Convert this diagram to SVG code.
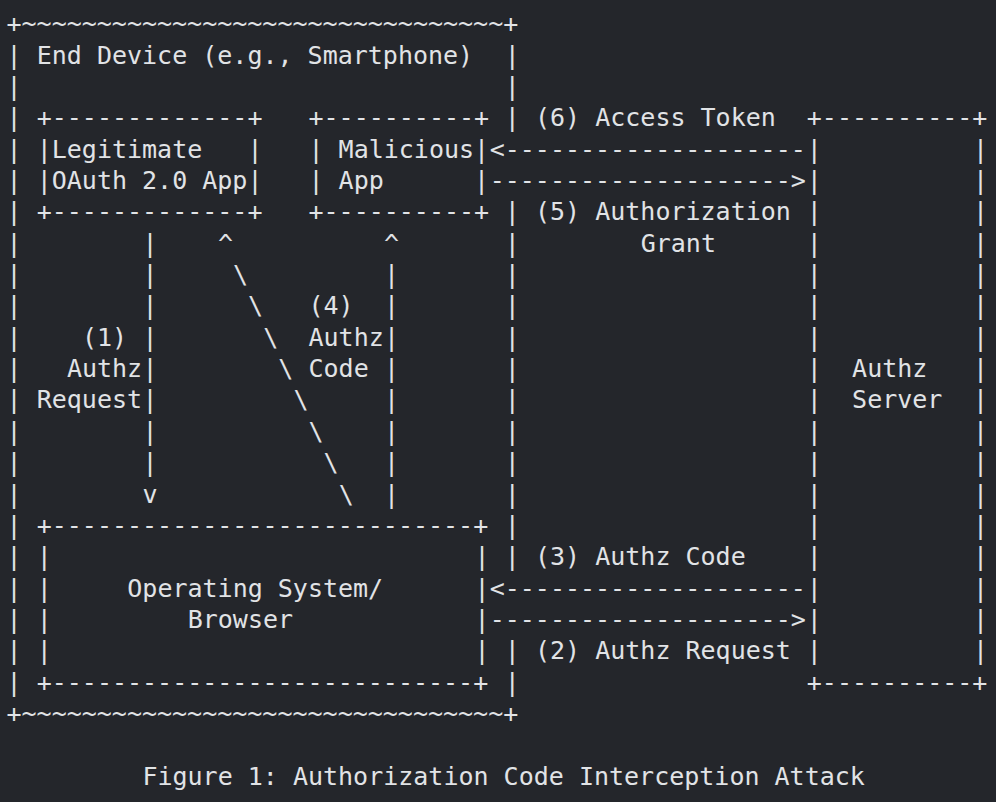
<svg xmlns="http://www.w3.org/2000/svg" width="996" height="802" viewBox="0 0 996 802" xml:space="preserve">
<style>
text { font-family: "DejaVu Sans Mono", "Liberation Mono", monospace; font-size: 25px; fill: #e1e3e6; white-space: pre; }
</style>
<rect width="996" height="802" fill="#24262b"/>
<g transform="translate(0,1.5)">
<g id="end-device">
<text x="6.5" y="30.6">+~~~~~~~~~~~~~~~~~~~~~~~~~~~~~~~~+</text>
<text x="36.7" y="62">End Device (e.g., Smartphone)</text>
<text x="6.5 6.5 6.5 6.5 6.5 6.5 6.5 6.5 6.5 6.5 6.5 6.5 6.5 6.5 6.5 6.5 6.5 6.5 6.5 6.5 6.5" y="62 93.3 124.7 156 187.4 218.8 250.1 281.5 312.8 344.2 375.6 406.9 438.3 469.6 501 532.4 563.7 595.1 626.4 657.8 689.2">|||||||||||||||||||||</text>
<text x="504.8 504.8 504.8 504.8 504.8 504.8 504.8 504.8 504.8 504.8 504.8 504.8 504.8 504.8 504.8 504.8 504.8" y="62 93.3 124.7 218.8 250.1 281.5 312.8 344.2 375.6 406.9 438.3 469.6 501 532.4 563.7 657.8 689.2">|||||||||||||||||</text>
<text x="6.5" y="720.5">+~~~~~~~~~~~~~~~~~~~~~~~~~~~~~~~~+</text>
</g>
<g id="legitimate-app">
<text x="36.7" y="124.7">+-------------+</text>
<text x="36.7" y="156">|Legitimate   |</text>
<text x="36.7" y="187.4">|OAuth 2.0 App|</text>
<text x="36.7" y="218.8">+-------------+</text>
</g>
<g id="malicious-app">
<text x="308.5" y="124.7">+----------+</text>
<text x="308.5" y="156">| Malicious|</text>
<text x="308.5" y="187.4">| App      |</text>
<text x="308.5" y="218.8">+----------+</text>
</g>
<g id="os-browser">
<text x="36.7" y="532.4">+----------------------------+</text>
<text x="36.7 36.7 36.7 36.7" y="563.7 595.1 626.4 657.8">||||</text>
<text x="474.6 474.6 474.6 474.6" y="563.7 595.1 626.4 657.8">||||</text>
<text x="127.3" y="595.1">Operating System/</text>
<text x="187.7" y="626.4">Browser</text>
<text x="36.7" y="689.2">+----------------------------+</text>
</g>
<g id="authz-server">
<text x="806.8" y="124.7">+----------+</text>
<text x="806.8 806.8 806.8 806.8 806.8 806.8 806.8 806.8 806.8 806.8 806.8 806.8 806.8 806.8 806.8 806.8 806.8" y="156 187.4 218.8 250.1 281.5 312.8 344.2 375.6 406.9 438.3 469.6 501 532.4 563.7 595.1 626.4 657.8">|||||||||||||||||</text>
<text x="973.1 973.1 973.1 973.1 973.1 973.1 973.1 973.1 973.1 973.1 973.1 973.1 973.1 973.1 973.1 973.1 973.1" y="156 187.4 218.8 250.1 281.5 312.8 344.2 375.6 406.9 438.3 469.6 501 532.4 563.7 595.1 626.4 657.8">|||||||||||||||||</text>
<text x="852.1" y="375.6">Authz</text>
<text x="852.1" y="406.9">Server</text>
<text x="806.8" y="689.2">+----------+</text>
</g>
<g id="connectors">
<g id="c1-authz-request">
<text x="142.4 142.4 142.4 142.4 142.4 142.4 142.4 142.4 142.4" y="250.1 281.5 312.8 344.2 375.6 406.9 438.3 469.6 501">||||||||v</text>
<text x="82" y="344.2">(1)</text>
<text x="66.9" y="375.6">Authz</text>
<text x="36.7" y="406.9">Request</text>
</g>
<g id="c4-authz-code">
<text x="217.9" y="250.1">^</text>
<text x="233" y="281.5">\</text>
<text x="248.1" y="312.8">\</text>
<text x="263.2" y="344.2">\</text>
<text x="278.3" y="375.6">\</text>
<text x="293.4" y="406.9">\</text>
<text x="308.5" y="438.3">\</text>
<text x="323.6" y="469.6">\</text>
<text x="338.7" y="501">\</text>
<text x="384 384 384 384 384 384 384 384 384" y="250.1 281.5 312.8 344.2 375.6 406.9 438.3 469.6 501">^||||||||</text>
<text x="308.5" y="312.8">(4)</text>
<text x="308.5" y="344.2">Authz</text>
<text x="308.5" y="375.6">Code</text>
</g>
<g id="c6-access-token">
<text x="535" y="124.7">(6) Access Token</text>
<text x="489.7" y="156">&lt;--------------------</text>
</g>
<g id="c5-authorization-grant">
<text x="489.7" y="187.4">--------------------&gt;</text>
<text x="535" y="218.8">(5) Authorization</text>
<text x="640.7" y="250.1">Grant</text>
</g>
<g id="c3-authz-code">
<text x="535" y="563.7">(3) Authz Code</text>
<text x="489.7" y="595.1">&lt;--------------------</text>
</g>
<g id="c2-authz-request">
<text x="489.7" y="626.4">--------------------&gt;</text>
<text x="535" y="657.8">(2) Authz Request</text>
</g>
</g>
<text id="caption" x="142.4" y="783.2">Figure 1: Authorization Code Interception Attack</text>
</g>
</svg>
